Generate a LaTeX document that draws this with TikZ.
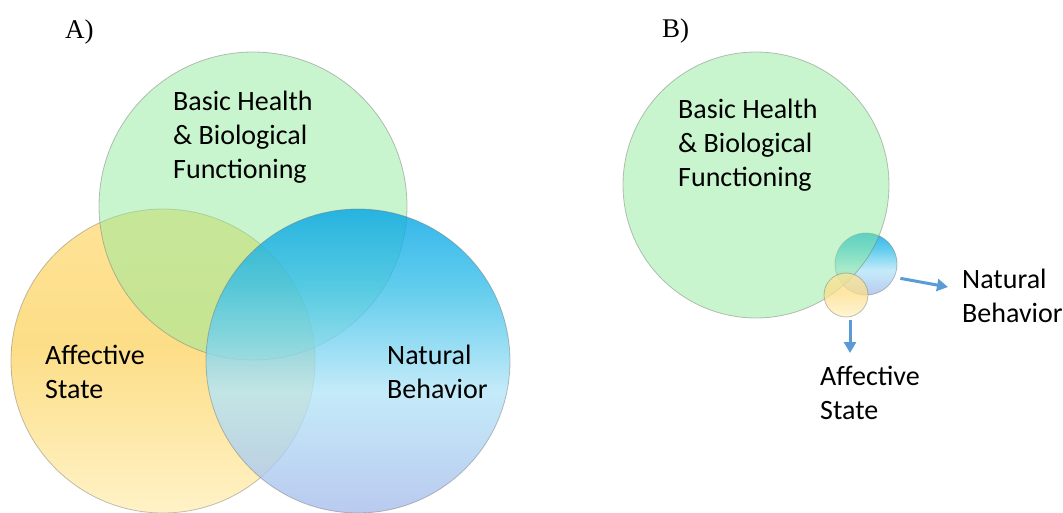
\documentclass[tikz,border=0pt]{standalone}
\usepackage{fontspec}
\setmainfont{Liberation Serif}
\newfontfamily\calibri{Carlito}
\usetikzlibrary{arrows.meta}

\pgfdeclareverticalshading{bluevenn}{100bp}{rgb(0bp)=(0.66,0.74,0.92); rgb(25bp)=(0.66,0.74,0.92); rgb(45bp)=(0.71,0.9,0.97); rgb(62.5bp)=(0.22,0.75,0.91); rgb(75bp)=(0,0.64,0.9); rgb(100bp)=(0,0.64,0.9)}
\pgfdeclareverticalshading{yellowvenn}{100bp}{rgb(0bp)=(1,0.95,0.78); rgb(25bp)=(1,0.95,0.78); rgb(52.5bp)=(0.99,0.87,0.53); rgb(75bp)=(1,0.89,0.59); rgb(100bp)=(1,0.89,0.59)}

\begin{document}
\begin{tikzpicture}[x=1pt,y=-1pt,
    venn/.style={shape=circle,draw=black!55,draw opacity=0.45,line width=0.8pt,inner sep=0pt},
    vennlabel/.style={font=\calibri\fontsize{28}{34}\selectfont,align=left,anchor=base west,inner sep=0pt},
    panel/.style={font=\fontsize{27}{30}\selectfont,anchor=base west,inner sep=0pt},
    arr/.style={draw=arrowblue,line width=3pt,-{Triangle[length=11pt,width=12pt]}}]
    \definecolor{venngreen}{RGB}{145,235,155}
    \definecolor{arrowblue}{RGB}{91,155,213}
    \useasboundingbox (0,0) rectangle (1063,512);
    \node[venn,minimum size=304pt,shading=yellowvenn] (affA) at (163,361) {};
    \node[venn,minimum size=308pt,fill=venngreen,fill opacity=0.5] (healthA) at (253,206) {};
    \node[venn,minimum size=304pt,shading=bluevenn,fill opacity=0.8] (natA) at (358,361) {};
    \node[venn,minimum size=62pt,shading=bluevenn,fill opacity=0.8] (natB) at (866,264) {};
    \node[venn,minimum size=266pt,fill=venngreen,fill opacity=0.5] (healthB) at (756,185) {};
    \node[venn,minimum size=44pt,shading=yellowvenn,fill opacity=0.75] (affB) at (846,295) {};
    \node[panel] (panelA) at (65,38) {A)};
    \node[panel] (panelB) at (662,37) {B)};
    \node[vennlabel] (healthAtext) at (173,178) {Basic Health\\\& Biological\\Functioning};
    \node[vennlabel] (affAtext) at (45,398) {Affective\\State};
    \node[vennlabel] (natAtext) at (387,398) {Natural\\Behavior};
    \node[vennlabel] (healthBtext) at (678,186) {Basic Health\\\& Biological\\Functioning};
    \node[vennlabel] (natBtext) at (962,322) {Natural\\Behavior};
    \node[vennlabel] (affBtext) at (820,419) {Affective\\State};
    \coordinate (natarrow) at (948,287);
    \coordinate (affarrow) at (850,353);
    \draw[arr,shorten <=6pt] (natB.-25) -- (natarrow);
    \draw[arr,shorten <=3pt] (affB.south -| affarrow) -- (affarrow);
\end{tikzpicture}
\end{document}
